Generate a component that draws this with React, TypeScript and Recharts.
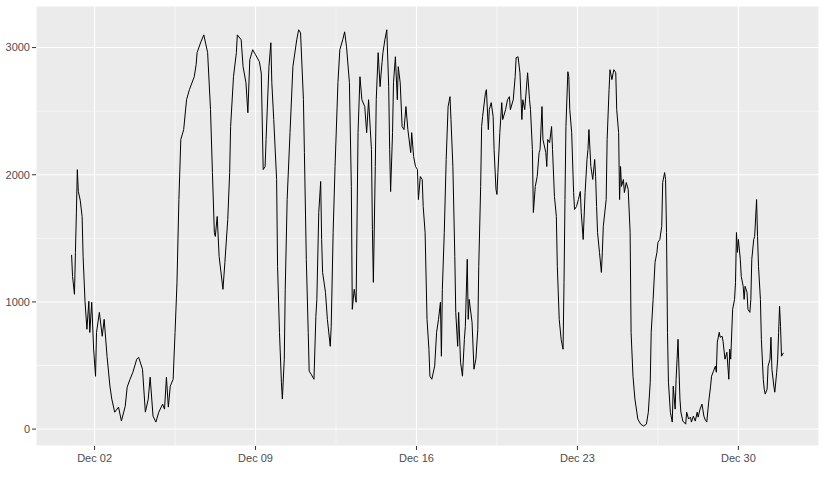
import { LineChart, Line, XAxis, YAxis, CartesianGrid, ReferenceLine } from 'recharts';

// hourly load, Dec 1 00:00 = hour 0
const hours = [
  0, 1, 3, 4, 5, 6, 7, 9, 11, 12, 14, 16, 18, 19, 21, 23, 25, 26, 29, 32, 34, 37, 40, 42, 45, 49, 52, 56,
  58, 61, 64, 68, 70, 74, 77, 80, 82, 85, 88, 91, 95, 97, 99, 101, 103, 106, 108, 110, 112, 114, 117, 120, 123, 128, 130,
  131, 135, 138, 142, 145, 147, 149, 150, 152, 154, 158, 160, 163, 165, 166, 169, 172, 173, 177, 179, 182, 184, 186, 189, 192, 196, 198,
  200, 202, 203, 206, 208, 209, 211, 214, 215, 217, 219, 220, 222, 223, 225, 228, 231, 235, 237, 239, 242, 243, 245, 247, 248, 250, 253, 255, 256, 258, 260, 261, 262, 265, 267,
  270, 271, 273, 275, 278, 280, 283, 285, 287, 290, 292, 293, 295, 297, 299, 301, 303, 306, 308, 310, 313, 314, 315, 317, 318, 320, 322, 324, 325, 327, 329, 331, 332, 333, 335, 336, 338,
  340, 341, 343, 345, 347, 349, 351, 354, 355, 357, 359, 361, 362, 364, 366, 367, 369, 371, 373, 374, 376, 379, 381, 383, 385, 386, 387, 389, 391, 393, 395, 396, 398, 400, 401, 403, 404, 406, 408,
  410, 411, 413, 414, 415, 418, 420, 422, 424, 425, 427, 428, 429, 432, 433, 435, 436, 438, 440, 441, 443, 444, 445, 447, 449, 450, 453, 455, 457, 458, 461, 463, 464, 466, 468, 470, 471, 473, 476, 478,
  479, 481, 482, 484, 486, 488, 489, 491, 492, 495, 496, 497, 499, 501, 502, 504, 506, 507, 509, 511, 513, 514, 515, 516, 518, 519, 520, 522, 524, 525, 527, 529, 531, 532, 534, 536, 538, 539, 540, 542, 544, 546, 547, 548,
  549, 551, 553, 554, 555, 558, 559, 561, 562, 564, 566, 568, 569, 571, 572, 573, 574, 576, 577, 579, 581, 583, 584, 586, 588, 590, 591, 594, 597, 600, 602, 604, 605, 607, 609, 611, 612, 614, 616, 617, 619,
  620, 621, 622, 623, 625, 627, 628, 630, 631, 632, 633, 635, 636, 638, 641, 642, 644, 646, 647, 649, 651, 653, 654, 656, 658, 660, 661, 663, 665, 667, 668, 670, 672, 673, 674, 676, 677, 679, 680, 682, 684, 686, 687, 688,
  690, 692, 693, 694, 695, 696, 698, 699, 701, 702, 703, 705, 706, 708, 709, 710, 712, 713, 715, 716, 717, 719, 720, 722, 723, 724, 726, 727, 729, 730, 731, 733, 734, 736, 737, 738, 739, 740, 741, 743,
];

const load = [
  1370, 1200, 1060, 1390, 1700, 2040, 1870, 1800, 1670, 1360, 1005, 785, 1005, 760, 997, 630, 415, 760, 918, 730, 863, 573, 338, 235, 133, 173, 63, 180,
  330, 392, 447, 550, 565, 471, 133, 235, 408, 102, 55, 133, 196, 157, 408, 173, 338, 392, 760, 1150, 1805, 2277, 2355, 2590, 2670, 2770, 2865,
  2960, 3046, 3100, 2960, 2512, 2017, 1546, 1515, 1672, 1358, 1099, 1311, 1648, 2017, 2379, 2771, 2960, 3100, 3061, 2850, 2724, 2488, 2904, 2983, 2944, 2889, 2800,
  2041, 2065, 2277, 2850, 3038, 2724, 2434, 1963, 1280, 761, 369, 236, 550, 1099, 1805, 2331, 2850, 3061, 3140, 3116, 2590, 2174, 1335, 761, 455, 432, 392, 887, 1020, 1703, 1947, 1491, 1232, 1075, 863,
  651, 808, 1546, 2065, 2724, 2983, 3061, 3124, 3006, 2724, 1908, 942, 1099, 997, 2331, 2771, 2590, 2536, 2331, 2590, 2198, 1570, 1154, 2065, 2590, 2960, 2693, 2881, 2960, 3061, 3140, 2693, 2198, 1868, 2331, 2724, 2928,
  2590, 2850, 2724, 2379, 2355, 2536, 2355, 2174, 2331, 2143, 2065, 2041, 1805, 1986, 1963, 1750, 1546, 863, 628, 416, 392, 495, 761, 863, 997, 573, 1099, 1546, 2120, 2536, 2614, 2434, 2065, 1358, 918, 651, 918, 526, 416,
  706, 808, 1335, 863, 1020, 840, 471, 550, 785, 1280, 1908, 2379, 2457, 2645, 2669, 2355, 2512, 2567, 2457, 2198, 1884, 1845, 2017, 2331, 2567, 2434, 2512, 2590, 2614, 2512, 2590, 2771, 2920, 2928, 2802, 2434, 2590, 2512, 2802, 2590,
  2512, 2198, 1703, 1908, 1986, 2174, 2198, 2536, 2277, 2174, 2065, 2277, 2253, 2379, 2198, 1829, 1672, 1280, 863, 706, 628, 1154, 1805, 2379, 2810, 2771, 2512, 2331, 1860, 1727, 1750, 1805, 1868, 1703, 1491, 1860, 2120, 2198, 2355, 2065, 1963, 2120, 1986, 1750,
  1546, 1390, 1232, 1390, 1594, 1805, 2277, 2669, 2826, 2748, 2826, 2802, 2512, 2331, 1805, 2065, 1908, 1963, 1860, 1939, 1884, 1546, 761, 416, 236, 133, 79, 39, 24, 39, 133, 369, 761, 1020, 1311, 1390, 1468, 1491, 1594, 1939, 2017,
  1963, 1546, 761, 369, 133, 55, 338, 157, 392, 550, 706, 236, 133, 63, 39, 133, 79, 94, 55, 102, 63, 133, 94, 157, 196, 102, 79, 55, 212, 338, 416, 455, 495, 447, 683, 761, 722, 730, 691, 550, 604, 392, 628, 550,
  942, 1020, 1154, 1546, 1390, 1491, 1335, 1201, 1123, 1020, 1123, 1075, 942, 918, 1020, 1335, 1491, 1515, 1805, 1515, 1280, 1020, 706, 392, 314, 275, 314, 495, 550, 722, 471, 338, 290, 447, 550, 761, 966, 808, 573, 600,
];

const tickHours = [24, 192, 360, 528, 696];
const tickLabels = ['Dec 02', 'Dec 09', 'Dec 16', 'Dec 23', 'Dec 30'];
const minorHours = [108, 276, 444, 612];
const yTicks = [0, 1000, 2000, 3000];
const yMinor = [500, 1500, 2500];

const data = hours.map((h, i) => ({ hour: h, load: load[i] }));

const tickStyle = { fill: '#4D4D4D', fontSize: 11, fontFamily: '"Liberation Sans", Arial, sans-serif' };

export default function App() {
  return (
    <div style={{ width: 826, height: 492, background: '#fff' }}>
      <style>{`body{margin:0}`}</style>
      <LineChart width={826} height={492} data={data} margin={{ top: 6, right: 7, left: 0, bottom: 16 }}>
        <CartesianGrid fill="#EBEBEB" stroke="#FFFFFF" strokeWidth={1.07} />
        {yMinor.map((v) => (
          <ReferenceLine key={'y' + v} y={v} stroke="#FFFFFF" strokeWidth={0.55} />
        ))}
        {minorHours.map((v) => (
          <ReferenceLine key={'x' + v} x={v} stroke="#FFFFFF" strokeWidth={0.55} />
        ))}
        <XAxis
          dataKey="hour"
          type="number"
          domain={[-37.15, 780.15]}
          allowDataOverflow
          ticks={tickHours}
          interval={0}
          tickFormatter={(v) => tickLabels[tickHours.indexOf(v)]}
          axisLine={false}
          tickLine={{ stroke: '#333333' }}
          tickSize={4}
          tickMargin={4}
          tick={tickStyle}
          height={30}
        />
        <YAxis
          type="number"
          domain={[-133, 3327]}
          allowDataOverflow
          ticks={yTicks}
          interval={0}
          axisLine={false}
          tickLine={{ stroke: '#333333' }}
          tickSize={4}
          tickMargin={2}
          tick={tickStyle}
          width={36}
        />
        <Line
          type="linear"
          dataKey="load"
          stroke="#000000"
          strokeWidth={1}
          dot={false}
          isAnimationActive={false}
        />
      </LineChart>
    </div>
  );
}
